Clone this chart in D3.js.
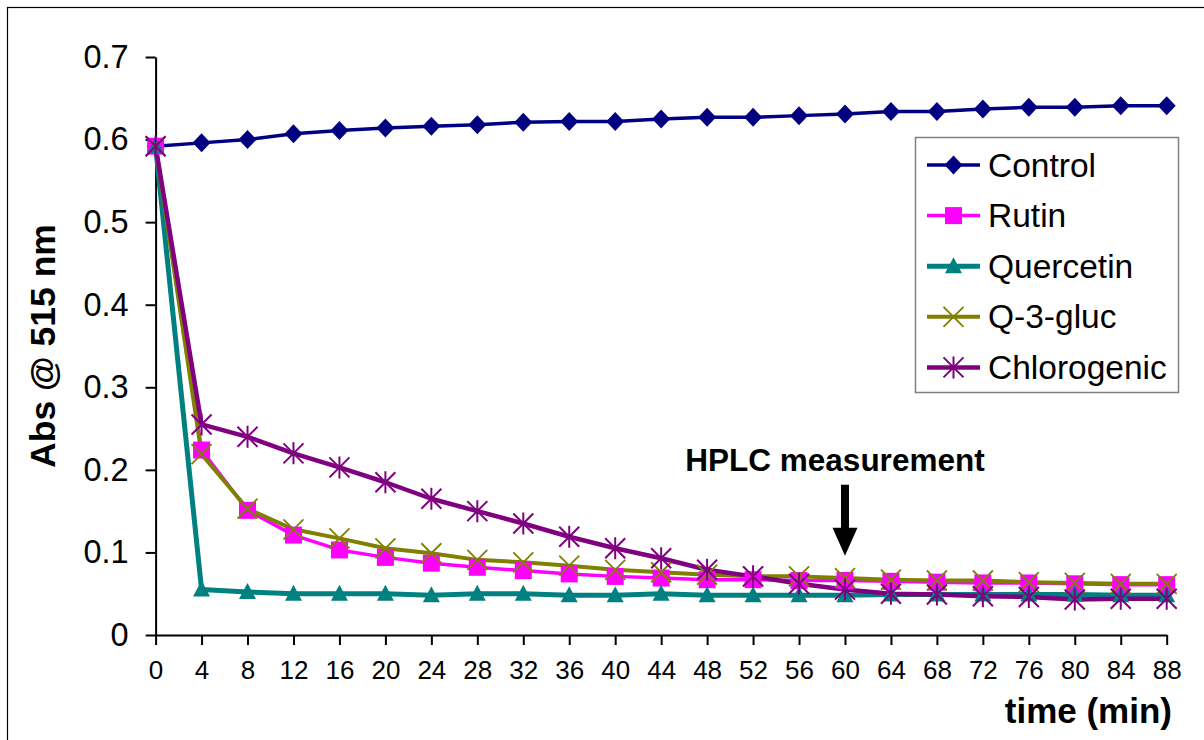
<!DOCTYPE html>
<html>
<head>
<meta charset="utf-8">
<script src="https://cdn.jsdelivr.net/npm/d3@7"></script>
<style>
  html, body { margin: 0; padding: 0; background: #fff; }
  svg { display: block; font-family: "Liberation Sans", Arial, sans-serif; }
</style>
</head>
<body>
<svg id="chart" width="1204" height="740"></svg>
<script>
// Sampling times (min)
const times = [0, 4, 8, 12, 16, 20, 24, 28, 32, 36, 40, 44, 48, 52, 56, 60, 64, 68, 72, 76, 80, 84, 88];

// Absorbance at 515 nm for each sample
const control     = [0.592, 0.596, 0.600, 0.607, 0.611, 0.614, 0.616, 0.618, 0.621, 0.622, 0.622, 0.625, 0.627, 0.627, 0.629, 0.631, 0.634, 0.634, 0.637, 0.639, 0.639, 0.641, 0.641];
const rutin       = [0.592, 0.224, 0.151, 0.121, 0.103, 0.094, 0.087, 0.082, 0.078, 0.074, 0.071, 0.069, 0.067, 0.067, 0.066, 0.066, 0.065, 0.064, 0.063, 0.063, 0.062, 0.061, 0.061];
const quercetin   = [0.592, 0.055, 0.052, 0.050, 0.050, 0.050, 0.048, 0.050, 0.050, 0.048, 0.048, 0.050, 0.048, 0.048, 0.048, 0.048, 0.049, 0.049, 0.049, 0.049, 0.049, 0.048, 0.048];
const q3gluc      = [0.592, 0.219, 0.153, 0.128, 0.117, 0.105, 0.099, 0.091, 0.088, 0.084, 0.079, 0.076, 0.073, 0.071, 0.071, 0.069, 0.067, 0.066, 0.066, 0.064, 0.063, 0.062, 0.062];
const chlorogenic = [0.592, 0.255, 0.240, 0.220, 0.203, 0.185, 0.165, 0.150, 0.135, 0.119, 0.105, 0.093, 0.079, 0.071, 0.062, 0.055, 0.050, 0.049, 0.047, 0.046, 0.043, 0.044, 0.044];

const seriesNames = ["Control", "Rutin", "Quercetin", "Q-3-gluc", "Chlorogenic"];
const yTicks = [0, 0.1, 0.2, 0.3, 0.4, 0.5, 0.6, 0.7];

// HPLC annotation anchor (time, absorbance)
const hplcTime = 60;
const hplcArrowTop = 0.182;
const hplcArrowTip = 0.096;

const styles = [
  { color: "#000080", width: 3.5, marker: "diamond" },
  { color: "#FF00FF", width: 3.5, marker: "square" },
  { color: "#008080", width: 5,   marker: "triangle" },
  { color: "#808000", width: 4,   marker: "x" },
  { color: "#800080", width: 4.5, marker: "star" }
];

const seriesData = [control, rutin, quercetin, q3gluc, chlorogenic].map((vals, i) => ({
  name: seriesNames[i],
  style: styles[i],
  points: times.map((t, j) => ({ t, v: vals[j] }))
}));

const svg = d3.select("#chart");

// chart area frame
svg.append("rect")
  .attr("x", 7.5).attr("y", 7.5)
  .attr("width", 1204).attr("height", 740)
  .attr("fill", "none").attr("stroke", "#000").attr("stroke-width", 1.2);

const x = d3.scaleLinear().domain([0, 88]).range([155.6, 1166.7]);
const y = d3.scaleLinear().domain([0, 0.7]).range([635, 57]);

// axes
const yAxis = svg.append("g")
  .attr("transform", `translate(${x(0)},0)`)
  .call(d3.axisLeft(y).tickValues(yTicks).tickSize(10).tickSizeOuter(0).tickPadding(17)
    .tickFormat(d => d === 0 ? "0" : d3.format(".1f")(d)));
yAxis.selectAll("text").attr("font-size", 32.5).attr("fill", "#000")
  .attr("font-family", "'Liberation Sans', Arial, sans-serif");

const xAxis = svg.append("g")
  .attr("transform", `translate(0,${y(0)})`)
  .call(d3.axisBottom(x).tickValues(times).tickSize(10).tickSizeOuter(0).tickPadding(16)
    .tickFormat(d3.format("d")));
xAxis.selectAll("text").attr("font-size", 26).attr("fill", "#000")
  .attr("font-family", "'Liberation Sans', Arial, sans-serif");

svg.selectAll(".domain, .tick line").attr("stroke", "#000").attr("stroke-width", 2);

// axis titles
svg.append("text")
  .attr("transform", `translate(55,${(y(0) + y(0.7)) / 2}) rotate(-90)`)
  .attr("text-anchor", "middle")
  .attr("font-size", 35.5).attr("font-weight", "bold")
  .text("Abs @ 515 nm");

svg.append("text")
  .attr("x", 1172).attr("y", 723)
  .attr("text-anchor", "end")
  .attr("font-size", 35).attr("font-weight", "bold")
  .text("time (min)");

// marker shapes
function drawMarker(g, type, color, cx, cy) {
  if (type === "diamond") {
    g.append("path").attr("d", `M${cx},${cy - 9.5}L${cx + 9},${cy}L${cx},${cy + 9.5}L${cx - 9},${cy}Z`)
      .attr("fill", color);
  } else if (type === "square") {
    g.append("rect").attr("x", cx - 8.5).attr("y", cy - 8.5).attr("width", 17).attr("height", 17)
      .attr("fill", color);
  } else if (type === "triangle") {
    g.append("path").attr("d", `M${cx},${cy - 9}L${cx + 8.5},${cy + 7}L${cx - 8.5},${cy + 7}Z`)
      .attr("fill", color);
  } else if (type === "x") {
    const r = 10;
    g.append("path").attr("d", `M${cx - r},${cy - r}L${cx + r},${cy + r}M${cx - r},${cy + r}L${cx + r},${cy - r}`)
      .attr("stroke", color).attr("stroke-width", 1.8).attr("fill", "none");
  } else if (type === "star") {
    const r = 10;
    g.append("path").attr("d", `M${cx - r},${cy - r}L${cx + r},${cy + r}M${cx - r},${cy + r}L${cx + r},${cy - r}M${cx},${cy - r - 1}L${cx},${cy + r + 1}`)
      .attr("stroke", color).attr("stroke-width", 2).attr("fill", "none");
  }
}

// lines first, then markers in series order
const line = d3.line().x(d => x(d.t)).y(d => y(d.v));
const linesG = svg.append("g");
seriesData.forEach(s => {
  linesG.append("path").datum(s.points)
    .attr("d", line)
    .attr("fill", "none")
    .attr("stroke", s.style.color)
    .attr("stroke-width", s.style.width)
    .attr("stroke-linejoin", "round");
});
const markersG = svg.append("g");
seriesData.forEach(s => {
  s.points.forEach(p => drawMarker(markersG, s.style.marker, s.style.color, x(p.t), y(p.v)));
});

// HPLC annotation
const ax = x(hplcTime);
const aTop = y(hplcArrowTop), aTip = y(hplcArrowTip);
svg.append("path")
  .attr("d", `M${ax - 4},${aTop}L${ax + 4},${aTop}L${ax + 4},${aTip - 28}L${ax + 12.5},${aTip - 28}L${ax},${aTip}L${ax - 12.5},${aTip - 28}L${ax - 4},${aTip - 28}Z`)
  .attr("fill", "#000");
svg.append("text")
  .attr("x", ax - 10).attr("y", aTop - 14)
  .attr("text-anchor", "middle")
  .attr("font-size", 31.5).attr("font-weight", "bold")
  .text("HPLC measurement");

// legend
const legend = svg.append("g");
legend.append("rect")
  .attr("x", 915.5).attr("y", 137.5).attr("width", 263).attr("height", 255)
  .attr("fill", "#fff").attr("stroke", "#808080").attr("stroke-width", 1.5);
seriesData.forEach((s, i) => {
  const ly = 165 + i * 50.6;
  legend.append("line")
    .attr("x1", 927).attr("x2", 980).attr("y1", ly).attr("y2", ly)
    .attr("stroke", s.style.color).attr("stroke-width", s.style.width);
  drawMarker(legend, s.style.marker, s.style.color, 953.5, ly);
  legend.append("text")
    .attr("x", 988).attr("y", ly + 11.5)
    .attr("font-size", 33.5)
    .text(s.name);
});
</script>
</body>
</html>
